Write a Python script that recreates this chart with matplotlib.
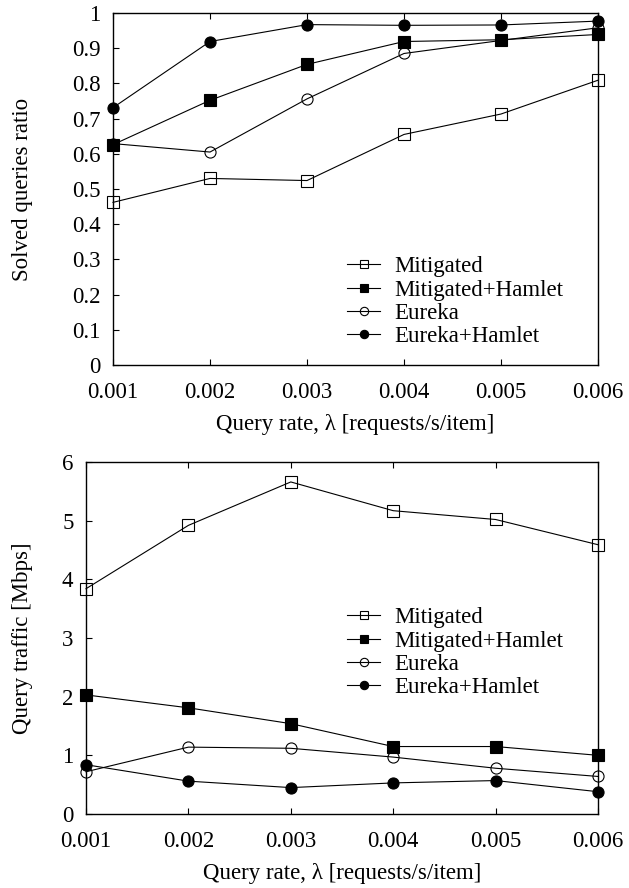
import matplotlib
matplotlib.use("Agg")
import matplotlib.pyplot as plt

plt.rcParams['font.family'] = ['Liberation Serif', 'DejaVu Serif']
plt.rcParams['font.size'] = 16.5

rates = [0.001, 0.002, 0.003, 0.004, 0.005, 0.006]
labels = ['Mitigated', 'Mitigated+Hamlet', 'Eureka', 'Eureka+Hamlet']

# solved queries ratio
solved_mitigated = [0.462, 0.530, 0.524, 0.655, 0.713, 0.809]
solved_mitigated_hamlet = [0.626, 0.752, 0.854, 0.919, 0.924, 0.939]
solved_eureka = [0.629, 0.605, 0.756, 0.885, 0.922, 0.958]
solved_eureka_hamlet = [0.731, 0.919, 0.967, 0.965, 0.966, 0.977]

# query traffic in Mbps
traffic_mitigated = [3.84, 4.92, 5.66, 5.17, 5.02, 4.59]
traffic_mitigated_hamlet = [2.03, 1.81, 1.54, 1.15, 1.15, 1.00]
traffic_eureka = [0.72, 1.14, 1.12, 0.97, 0.78, 0.64]
traffic_eureka_hamlet = [0.84, 0.56, 0.45, 0.53, 0.57, 0.38]

styles = [('s', 'none', 8), ('s', 'black', 8.5), ('o', 'none', 8), ('o', 'black', 8)]

W, H = 629, 888
fig = plt.figure(figsize=(W / 100, H / 100), dpi=100)

def frac(l, t, r, b):
    return [l / W, 1 - b / H, (r - l) / W, (b - t) / H]

ax1 = fig.add_axes(frac(113, 13, 598, 365))
ax2 = fig.add_axes(frac(86, 462, 598, 814))

def draw(ax, series, ylim, yticks, ticklabels, ylabel, leg_anchor):
    for ys, lab, (m, fc, ms) in zip(series, labels, styles):
        ax.plot(rates, ys, color='black', lw=0.8, marker=m, markersize=ms,
                markerfacecolor=fc, markeredgecolor='black', markeredgewidth=0.8,
                label=lab, clip_on=False, zorder=3)
    ax.set_xlim(0.001, 0.006)
    ax.set_ylim(*ylim)
    ax.set_xticks(rates)
    ax.set_xticklabels(['0.001', '0.002', '0.003', '0.004', '0.005', '0.006'])
    ax.set_yticks(yticks)
    ax.set_yticklabels(ticklabels)
    ax.tick_params(axis='x', direction='in', top=True, length=4.5, width=0.8, pad=12.5)
    ax.tick_params(axis='y', direction='in', right=False, length=4.5, width=0.8, pad=9)
    for s in ax.spines.values():
        s.set_linewidth(1.0)
    ax.set_xlabel('Query rate, λ [requests/s/item]', labelpad=7.5)
    ax.set_ylabel(ylabel)
    leg = ax.legend(loc='upper left', bbox_to_anchor=leg_anchor, frameon=False,
                    borderpad=0, borderaxespad=0, labelspacing=0.1,
                    handlelength=1.45, handletextpad=0.6, markerscale=0.75)
    return leg

draw(ax1, [solved_mitigated, solved_mitigated_hamlet, solved_eureka, solved_eureka_hamlet],
     (0, 1), [i / 10 for i in range(11)],
     ['0'] + ['0.%d' % i for i in range(1, 10)] + ['1'],
     'Solved queries ratio', (0.4825, 0.309))
ax1.yaxis.set_label_coords(-0.165, 0.5)

draw(ax2, [traffic_mitigated, traffic_mitigated_hamlet, traffic_eureka, traffic_eureka_hamlet],
     (0, 6), list(range(7)), [str(i) for i in range(7)],
     'Query traffic [Mbps]', (0.51, 0.587))
ax2.yaxis.set_label_coords(-0.1035, 0.5)

fig.savefig('out.png', dpi=100)
